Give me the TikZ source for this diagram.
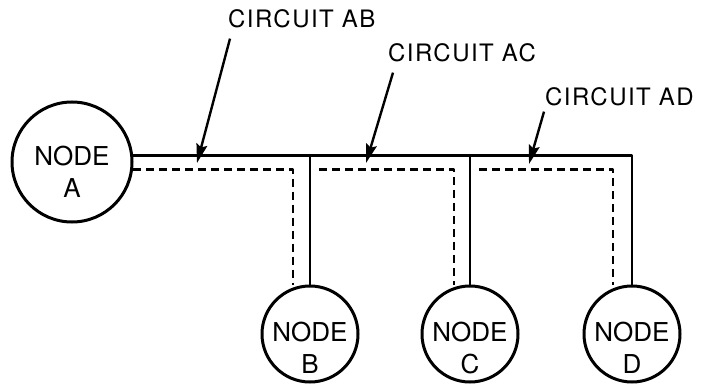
\documentclass[tikz,border=0pt]{standalone}
\usepackage{fontspec}
\setmainfont{TeX Gyre Heros}
\newfontfamily\tagfont[LetterSpace=6]{TeX Gyre Heros}
\usetikzlibrary{arrows.meta,calc}
\begin{document}
\begin{tikzpicture}[x=1pt, y=-1pt, line join=round, >={Stealth[length=19pt,width=11pt,inset=3pt]},
		station/.style={draw, circle, line width=3pt, inner sep=0pt},
		stationtext/.style={align=center, inner sep=0pt, font=\fontsize{26}{32}\selectfont},
		tag/.style={anchor=base west, inner sep=0pt, font=\tagfont\fontsize{24}{26}\selectfont},
		wire/.style={line width=2.8pt},
		track/.style={line width=2.6pt, dash pattern=on 8pt off 5pt},
		pointer/.style={->, line width=2.4pt}]
					\useasboundingbox (0,0) rectangle (701,385);
					\node[station, minimum size=120pt] (A) at (72,162) {};
					\node[station, minimum size=96pt] (B) at (310,334) {};
					\node[station, minimum size=96pt] (C) at (470,334) {};
					\node[station, minimum size=96pt] (D) at (632,334) {};
					\node[stationtext] (Atxt) at ([yshift=-10pt]A.center) {NODE\\A};
					\node[stationtext] (Btxt) at ([yshift=-14pt]B.center) {NODE\\B};
					\node[stationtext] (Ctxt) at ([yshift=-14pt]C.center) {NODE\\C};
					\node[stationtext] (Dtxt) at ([yshift=-14pt]D.center) {NODE\\D};
					\draw[wire] (A.6)--(A.6 -| D.north)--(D.north)
					(A.6 -| B.north)--(B.north)
					(A.6 -| C.north)--(C.north)
					;
					\coordinate (dB) at ($(B.north)+(-17,0)$);
					\coordinate (dC) at ($(C.north)+(-16,0)$);
					\coordinate (dD) at ($(D.north)+(-19,0)$);
					\draw[track] (A.-7)--(A.-7 -| dB)--(dB);
					\draw[track] ($(A.-7 -| B.north)+(9,0)$)--(A.-7 -| dC)--(dC);
					\draw[track] ($(A.-7 -| C.north)+(9,0)$)--(A.-7 -| dD)--(dD);
					\node[tag] (lblAB) at (228,28) {CIRCUIT AB};
					\node[tag] (lblAC) at (388,62) {CIRCUIT AC};
					\node[tag] (lblAD) at (545,106) {CIRCUIT AD};
					\coordinate (tipAB) at (197,163);
					\coordinate (tipAC) at (366,163);
					\coordinate (tipAD) at (529,164);
					\draw[pointer] ([shift={(2,10)}]lblAB.south west)--(tipAB);
					\draw[pointer] ([shift={(5,10)}]lblAC.south west)--(tipAC);
					\draw[pointer] ([shift={(-1,5)}]lblAD.south west)--(tipAD);
				\end{tikzpicture}
\end{document}
